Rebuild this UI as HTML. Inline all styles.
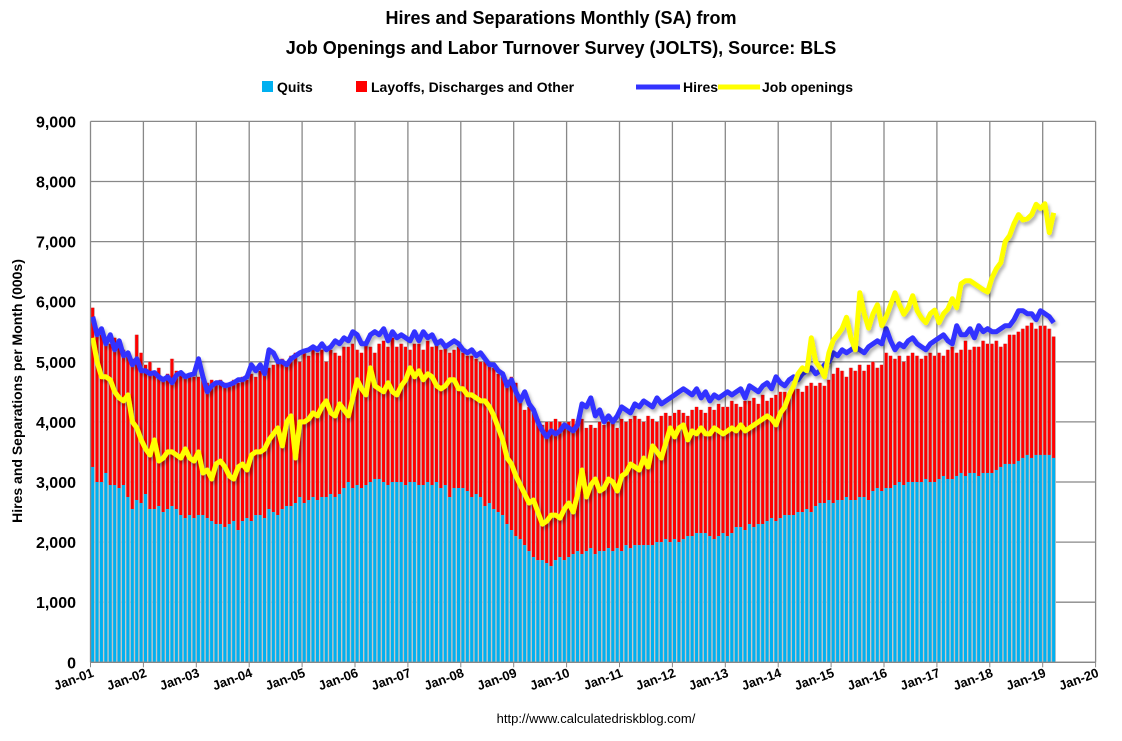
<!DOCTYPE html>
<html><head><meta charset="utf-8">
<style>
body{margin:0;background:#fff;}
svg text{font-family:"Liberation Sans",Arial,sans-serif;}
</style></head>
<body>
<svg id="chart" width="1122" height="736" viewBox="0 0 1122 736" xmlns="http://www.w3.org/2000/svg">
<defs>
<filter id="sh" x="-5%" y="-5%" width="110%" height="120%"><feDropShadow dx="2" dy="3" stdDeviation="1.5" flood-color="#000" flood-opacity="0.3"/></filter>
</defs>
<rect width="1122" height="736" fill="#fff"/>
<text x="561" y="24" text-anchor="middle" font-size="18" font-weight="bold">Hires and Separations Monthly (SA) from</text>
<text x="561" y="54" text-anchor="middle" font-size="18" font-weight="bold">Job Openings and Labor Turnover Survey (JOLTS), Source: BLS</text>
<g font-size="14" font-weight="bold">
 <g><rect x="262" y="81" width="11" height="11" fill="#00b0f0"/><text x="277" y="92">Quits</text></g>
 <g><rect x="356" y="81" width="11" height="11" fill="#ff0000"/><text x="371" y="92">Layoffs, Discharges and Other</text></g>
 <g><line x1="636" y1="87" x2="680" y2="87" stroke="#3333ff" stroke-width="5"/><text x="683" y="92">Hires</text></g>
 <g><line x1="718" y1="87" x2="760" y2="87" stroke="#ffff00" stroke-width="5"/><text x="762" y="92">Job openings</text></g>
</g>
<g id="grid"></g>
<g id="bars"></g>
<g id="lines"></g>
<g id="axes"></g>
<text transform="translate(22,391) rotate(-90)" text-anchor="middle" font-size="14" font-weight="bold">Hires and Separations per Month (000s)</text>
<text x="596" y="723" text-anchor="middle" font-size="13">http://www.calculatedriskblog.com/</text>
</svg>
<script>
const years = ["Jan-01","Jan-02","Jan-03","Jan-04","Jan-05","Jan-06","Jan-07","Jan-08","Jan-09","Jan-10","Jan-11","Jan-12","Jan-13","Jan-14","Jan-15","Jan-16","Jan-17","Jan-18","Jan-19","Jan-20"];
const yTicks = [0,1000,2000,3000,4000,5000,6000,7000,8000,9000];
const yTickLabels = ["0","1,000","2,000","3,000","4,000","5,000","6,000","7,000","8,000","9,000"];
const hires = [
5750,5450,5550,5300,5450,5200,5350,5100,5150,4950,5050,4850,
4850,4800,4820,4750,4700,4750,4650,4780,4820,4750,4780,4800,
5050,4750,4500,4600,4650,4650,4600,4620,4650,4700,4700,4750,
4950,4850,4950,4800,5200,5150,5000,5000,4950,5050,5100,5150,
5180,5200,5250,5200,5300,5200,5250,5350,5300,5400,5350,5500,
5450,5300,5300,5450,5500,5450,5550,5350,5500,5400,5450,5400,
5350,5500,5350,5500,5400,5450,5300,5350,5250,5300,5350,5300,
5200,5150,5200,5100,5150,5050,4950,4950,4850,4800,4600,4700,
4500,4350,4500,4300,4200,4000,3850,3750,3850,3800,3850,3950,
3900,3850,3950,4300,4250,4400,4100,4200,4000,4100,4000,4100,
4250,4200,4150,4300,4250,4350,4300,4250,4400,4300,4350,4400,
4450,4500,4550,4500,4450,4550,4400,4500,4350,4450,4400,4450,
4500,4450,4500,4550,4400,4600,4550,4500,4600,4650,4550,4750,
4650,4600,4700,4750,4700,4800,4850,4900,4800,4850,4950,5000,
5150,5100,5200,5150,5200,5250,5200,5150,5250,5300,5350,5300,
5550,5350,5200,5300,5250,5350,5400,5300,5250,5200,5300,5350,
5400,5450,5350,5300,5600,5450,5450,5550,5400,5600,5500,5550,
5500,5500,5550,5600,5600,5700,5850,5850,5800,5800,5700,5850,
5800,5750,5650];
const quits = [
3250,3000,3000,3150,2950,2950,2900,2950,2750,2550,2700,2650,
2800,2550,2550,2600,2500,2550,2600,2550,2450,2400,2450,2400,
2450,2450,2400,2350,2300,2300,2250,2300,2350,2200,2350,2400,
2350,2450,2450,2400,2550,2500,2450,2550,2600,2600,2650,2750,
2650,2700,2750,2700,2750,2750,2800,2750,2800,2900,3000,2900,
2950,2900,2950,3000,3050,3050,3000,2950,3000,3000,3000,2950,
3000,3000,2950,2950,3000,2950,3000,2900,2950,2750,2900,2900,
2900,2850,2750,2800,2750,2600,2650,2550,2500,2450,2300,2200,
2100,2050,1950,1850,1750,1700,1700,1650,1600,1700,1750,1700,
1750,1800,1850,1800,1850,1900,1800,1850,1850,1900,1850,1900,
1850,1950,1900,1950,1950,1950,1950,1950,2000,2000,2050,2000,
2050,2000,2050,2100,2100,2150,2150,2150,2100,2050,2100,2150,
2100,2150,2250,2250,2200,2300,2250,2300,2300,2350,2400,2350,
2400,2450,2450,2450,2500,2500,2550,2500,2600,2650,2650,2700,
2650,2700,2700,2750,2700,2700,2750,2750,2700,2850,2900,2850,
2900,2900,2950,3000,2950,3000,3000,3000,3000,3050,3000,3000,
3050,3100,3050,3050,3100,3150,3100,3150,3150,3100,3150,3150,
3150,3200,3250,3300,3300,3300,3350,3400,3450,3400,3450,3450,
3450,3450,3400];
const separations = [
5900,5500,5450,5350,5300,5400,5300,5200,5150,5050,5450,5150,
4950,5000,4850,4900,4750,4800,5050,4850,4800,4750,4800,4750,
4750,4700,4650,4700,4650,4700,4650,4600,4700,4650,4750,4700,
4800,4750,4850,4800,4900,4950,5000,5050,5000,5100,5150,5000,
5150,5100,5200,5150,5200,5000,5200,5150,5100,5250,5250,5300,
5200,5150,5300,5250,5150,5300,5350,5250,5400,5250,5300,5250,
5200,5300,5300,5200,5350,5250,5300,5200,5250,5150,5200,5250,
5150,5100,5100,5050,5000,5000,4950,4900,4800,4750,4700,4750,
4650,4450,4200,4250,4150,4050,3950,4000,4000,4050,4000,3950,
4000,4050,4000,4050,3900,3950,3900,4000,3950,4000,4050,3900,
4050,4000,4050,4100,4050,4000,4100,4050,4000,4100,4150,4100,
4150,4200,4150,4100,4200,4250,4200,4150,4250,4200,4300,4250,
4250,4350,4300,4250,4350,4350,4400,4300,4450,4350,4400,4450,
4500,4500,4450,4550,4550,4500,4600,4650,4600,4650,4600,4700,
4800,4900,4850,4750,4900,4850,4950,4850,4950,5000,4900,4950,
5150,5100,5050,5100,5000,5100,5150,5100,5050,5100,5150,5100,
5150,5100,5200,5250,5150,5200,5350,5200,5250,5250,5350,5300,
5300,5350,5250,5300,5450,5450,5500,5550,5600,5650,5550,5600,
5600,5550,5420];
const openings = [
5400,5000,4750,4750,4700,4500,4400,4350,4450,4000,3900,3700,
3550,3450,3700,3350,3400,3500,3500,3450,3400,3550,3400,3350,
3500,3150,3200,3050,3300,3350,3250,3100,3050,3250,3300,3200,
3450,3500,3500,3550,3700,3800,3900,3600,4000,4100,3400,4000,
4000,4050,4150,4100,4250,4350,4150,4100,4300,4200,4100,4400,
4700,4550,4450,4900,4600,4550,4500,4650,4500,4450,4600,4700,
4900,4750,4850,4700,4800,4750,4600,4550,4600,4700,4700,4550,
4550,4450,4450,4400,4350,4350,4250,4100,3900,3700,3400,3300,
3100,2950,2800,2650,2700,2500,2300,2350,2450,2450,2400,2550,
2650,2500,2800,3200,2750,2950,3050,2850,2900,3050,3000,2850,
3100,3150,3300,3250,3200,3400,3250,3600,3500,3400,3650,3900,
3750,3900,3950,3700,3850,3800,3900,3800,3800,3900,3850,3800,
3850,3900,3850,3950,3850,3900,3950,4000,4050,4100,4050,3950,
4150,4250,4450,4600,4800,4900,4850,5400,5000,4900,4750,5150,
5360,5450,5550,5740,5400,5200,6150,5800,5560,5800,5950,5600,
5750,5950,6150,5950,5790,5900,6100,5850,5730,5650,5800,5860,
5650,5800,5880,6050,5900,6300,6350,6350,6300,6250,6200,6160,
6400,6550,6650,7000,7100,7300,7450,7360,7380,7450,7620,7550,
7630,7150,7480];

const NS="http://www.w3.org/2000/svg";
const X0=90.5, YEARW=52.9, MW=YEARW/12, Y0=662.3, PPU=60.1/1000;
const xMonth=i=>X0+i*MW;
const xYear=i=>X0+i*YEARW;
const y=v=>Y0-v*PPU;
function mk(tag,attrs,parent){const e=document.createElementNS(NS,tag);for(const k in attrs)e.setAttribute(k,attrs[k]);parent.appendChild(e);return e;}
const grid=document.getElementById('grid'),bars=document.getElementById('bars'),lines=document.getElementById('lines'),axes=document.getElementById('axes');
yTicks.forEach((v,i)=>{
  const l=mk('line',{x1:X0,x2:xYear(19),y1:y(v),y2:y(v),stroke:'#888','stroke-width':1.3},grid);
  
  
  const t=mk('text',{x:76,y:y(v)+6,'text-anchor':'end','font-size':16,'font-weight':'bold'},axes);
  t.textContent=yTickLabels[i];
  
  
});
years.forEach((lab,i)=>{
  const x=xYear(i);
  if(i>0){const l=mk('line',{x1:x,x2:x,y1:y(9000),y2:Y0,stroke:'#888','stroke-width':1.3},grid);
  
  }
  const tk=mk('line',{x1:x,x2:x,y1:Y0,y2:Y0+5,stroke:'#888','stroke-width':1},axes);
  
  
  const t=mk('text',{transform:`translate(${x+4},${Y0+14}) rotate(-20)`,'text-anchor':'end','font-size':13,'font-weight':'bold'},axes);
  t.textContent=lab;
  
  
});
quits.forEach((q,i)=>{
  const x=xMonth(i), s=separations[i];
  const g=mk('rect',{x:x,y:y(s),width:MW,height:Y0-y(s),fill:'#c0c0c0'},bars);
  
  
  const r=mk('rect',{x:x+0.6,y:y(s),width:MW-1.4,height:y(q)-y(s),fill:'#ff0000'},bars);
  
  
  const b=mk('rect',{x:x+0.6,y:y(q),width:MW-1.4,height:Y0-y(q),fill:'#00b0f0'},bars);
  
  
});
function path(arr){return arr.map((v,i)=>(i?'L':'M')+(xMonth(i)+MW/2).toFixed(1)+','+y(v).toFixed(1)).join('');}
const hp=mk('path',{d:path(hires),fill:'none',stroke:'#3333ff','stroke-width':5,'stroke-linejoin':'round',filter:'url(#sh)'},lines);


const op=mk('path',{d:path(openings),fill:'none',stroke:'#ffff00','stroke-width':5,'stroke-linejoin':'round',filter:'url(#sh)'},lines);


const ax=mk('line',{x1:X0,x2:X0,y1:y(9000),y2:Y0,stroke:'#888','stroke-width':1.3},axes);


const bx=mk('line',{x1:X0,x2:xYear(19),y1:Y0,y2:Y0,stroke:'#888','stroke-width':1.3},axes);


</script>
</body></html>
